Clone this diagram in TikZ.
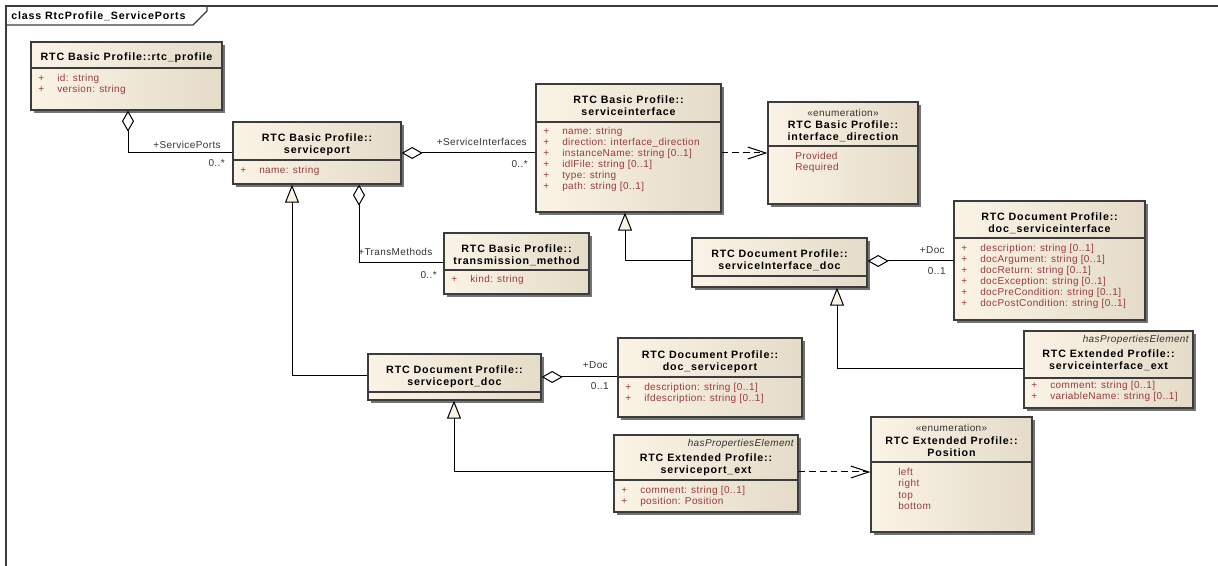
\documentclass[tikz,border=0pt]{standalone}
\usepackage{fontspec}
\setmainfont{Liberation Sans}
\newfontfamily\ttlfont{Liberation Sans}[LetterSpace=8]
\newfontfamily\txtfont{Liberation Sans}[LetterSpace=4]
\usetikzlibrary{arrows.meta,shadows}
\definecolor{boxleft}{HTML}{FBF4E6}
\definecolor{boxright}{HTML}{E4DBC8}
\definecolor{attrred}{HTML}{9C3A3A}
\definecolor{rolegray}{HTML}{333333}
\definecolor{edge}{HTML}{3C3C3C}
\newcommand{\plusattr}[1]{\makebox[14.25pt][l]{+}#1}

\begin{document}
\begin{tikzpicture}
   [
      x=0.75pt, y=-0.75pt,
      cls/.style 2 args={rectangle, draw=edge, line width=1pt, inner sep=0pt,
      minimum width=#1*0.75pt, minimum height=#2*0.75pt,
      left color=boxleft, right color=boxright,
      drop shadow={shadow xshift=2.25pt, shadow yshift=-2.25pt, fill=black!55, opacity=1}},
      ttl/.style={anchor=base, align=center, inner sep=0pt, font=\ttlfont\bfseries\fontsize{8}{9}\selectfont},
      attrs/.style={anchor=base west, align=left, inner sep=0pt, text=attrred,
      font=\txtfont\fontsize{7.5}{8.25}\selectfont},
      stereo/.style={anchor=base, inner sep=0pt, text=rolegray, font=\txtfont\fontsize{7.5}{8}\selectfont},
      tag/.style={anchor=base east, inner sep=0pt, text=rolegray, font=\txtfont\itshape\fontsize{7.5}{8}\selectfont},
      role/.style={anchor=base east, inner sep=0pt, text=rolegray, font=\txtfont\fontsize{7.5}{8}\selectfont},
      sepln/.style={draw=edge, line width=1pt},
      conn/.style={draw=black, line width=0.75pt},
      agg/.style={conn, {Diamond[fill=white, length=15.75pt, width=9pt]}-},
      gen/.style={conn, {Triangle[fill=boxleft, length=13.5pt, width=10.5pt]}-},
      dep/.style={conn, dash pattern=on 5pt off 3pt, -{Straight Barb[length=13.5pt, width=9pt]}}
   ]
   \path[fill=white, use as bounding box] (0,0) rectangle (1218,566);

   % frame
   \draw[edge, line width=0.8pt] (6,566) -- (6,6) -- (1218,6);
   \draw[edge, line width=0.8pt] (6,25) -- (193,25) -- (207,11) -- (207,6);
   \node[anchor=west, inner sep=0pt, font=\ttlfont\bfseries\fontsize{8}{8}\selectfont] (frametitle) at (11,16) {class RtcProfile\_ServicePorts};

   % classes (multi-line texts are placed by the baseline of their last line)
   \node[cls={191}{68}] (rtcprofile) at (126.5,76) {};
   \node[ttl] (rtcprofile-t) at (126.5,61) {RTC Basic Profile::rtc\_profile};
   \draw[sepln] (rtcprofile.west |- 0,68) -- (rtcprofile.east |- 0,68);
   \node[attrs] (rtcprofile-a) at (38,93) {\plusattr{id: string}\\\plusattr{version: string}};

   \node[cls={168}{62}] (serviceport) at (317,153) {};
   \node[ttl] (serviceport-t) at (317,154) {RTC Basic Profile::\\serviceport};
   \draw[sepln] (serviceport.west |- 0,160) -- (serviceport.east |- 0,160);
   \node[attrs] (serviceport-a) at (240,174) {\plusattr{name: string}};

   \node[cls={185}{128}] (serviceinterface) at (628.5,148) {};
   \node[ttl] (serviceinterface-t) at (628.5,116) {RTC Basic Profile::\\serviceinterface};
   \draw[sepln] (serviceinterface.west |- 0,122) -- (serviceinterface.east |- 0,122);
   \node[attrs] (serviceinterface-a) at (543,190) {\plusattr{name: string}\\\plusattr{direction: interface\_direction}\\
      \plusattr{instanceName: string [0..1]}\\\plusattr{idlFile: string [0..1]}\\\plusattr{type: string}\\
      \plusattr{path: string [0..1]}};

   \node[cls={150}{102}] (ifdirection) at (843,153) {};
   \node[stereo] (ifdirection-s) at (843,117) {«enumeration»};
   \node[ttl] (ifdirection-t) at (843,141) {RTC Basic Profile::\\interface\_direction};
   \draw[sepln] (ifdirection.west |- 0,146) -- (ifdirection.east |- 0,146);
   \node[attrs] (ifdirection-a) at (795,171) {Provided\\Required};

   \node[cls={145}{61}] (transmethod) at (516.5,263.5) {};
   \node[ttl] (transmethod-t) at (516.5,265) {RTC Basic Profile::\\transmission\_method};
   \draw[sepln] (transmethod.west |- 0,270) -- (transmethod.east |- 0,270);
   \node[attrs] (transmethod-a) at (451,283) {\plusattr{kind: string}};

   \node[cls={175}{49}] (sifacedoc) at (779.5,262.5) {};
   \node[ttl] (sifacedoc-t) at (779.5,270) {RTC Document Profile::\\serviceInterface\_doc};
   \draw[sepln] (sifacedoc.west |- 0,276) -- (sifacedoc.east |- 0,276);

   \node[cls={191}{119}] (docsiface) at (1049.5,260.5) {};
   \node[ttl] (docsiface-t) at (1049.5,233) {RTC Document Profile::\\doc\_serviceinterface};
   \draw[sepln] (docsiface.west |- 0,238) -- (docsiface.east |- 0,238);
   \node[attrs] (docsiface-a) at (961,307) {\plusattr{description: string [0..1]}\\\plusattr{docArgument: string [0..1]}\\
      \plusattr{docReturn: string [0..1]}\\\plusattr{docException: string [0..1]}\\
      \plusattr{docPreCondition: string [0..1]}\\\plusattr{docPostCondition: string [0..1]}};

   \node[cls={173}{46}] (sportdoc) at (454.5,377) {};
   \node[ttl] (sportdoc-t) at (454.5,386) {RTC Document Profile::\\serviceport\_doc};
   \draw[sepln] (sportdoc.west |- 0,392) -- (sportdoc.east |- 0,392);

   \node[cls={184}{79}] (docsport) at (710,377.5) {};
   \node[ttl] (docsport-t) at (710,371) {RTC Document Profile::\\doc\_serviceport};
   \draw[sepln] (docsport.west |- 0,377) -- (docsport.east |- 0,377);
   \node[attrs] (docsport-a) at (625,402) {\plusattr{description: string [0..1]}\\\plusattr{ifdescription: string [0..1]}};

   \node[cls={169}{77}] (sifaceext) at (1108.5,369.5) {};
   \node[tag] (sifaceext-s) at (1189,343) {hasPropertiesElement};
   \node[ttl] (sifaceext-t) at (1108.5,370) {RTC Extended Profile::\\serviceinterface\_ext};
   \draw[sepln] (sifaceext.west |- 0,378) -- (sifaceext.east |- 0,378);
   \node[attrs] (sifaceext-a) at (1031,400) {\plusattr{comment: string [0..1]}\\\plusattr{variableName: string [0..1]}};

   \node[cls={184}{77}] (sportext) at (706,473.5) {};
   \node[tag] (sportext-s) at (794,447) {hasPropertiesElement};
   \node[ttl] (sportext-t) at (706,474) {RTC Extended Profile::\\serviceport\_ext};
   \draw[sepln] (sportext.west |- 0,480) -- (sportext.east |- 0,480);
   \node[attrs] (sportext-a) at (621,504) {\plusattr{comment: string [0..1]}\\\plusattr{position: Position}};

   \node[cls={161}{115}] (position) at (951.5,474.5) {};
   \node[stereo] (position-s) at (951.5,432) {«enumeration»};
   \node[ttl] (position-t) at (951.5,457) {RTC Extended Profile::\\Position};
   \draw[sepln] (position.west |- 0,462) -- (position.east |- 0,462);
   \node[attrs, font=\txtfont\fontsize{7.5}{8.6}\selectfont] (position-a) at (898,509.5) {left\\right\\top\\bottom};

   % connectors
   \draw[agg] (rtcprofile.south -| 128,0) |- (serviceport.west |- 0,153);
   \draw[agg] (serviceport.east |- 0,153) -- (serviceinterface.west |- 0,153);
   \draw[agg] (serviceport.south -| 359,0) |- (transmethod.west |- 0,263);
   \draw[dep] (serviceinterface.east |- 0,153) -- (ifdirection.west |- 0,153);
   \draw[gen] (serviceinterface.south -| 625,0) |- (sifacedoc.west |- 0,261);
   \draw[agg] (sifacedoc.east |- 0,261) -- (docsiface.west |- 0,261);
   \draw[gen] (sifacedoc.south -| 837,0) |- (sifaceext.west |- 0,369);
   \draw[gen] (serviceport.south -| 292,0) |- (sportdoc.west |- 0,376);
   \draw[agg] (sportdoc.east |- 0,377) -- (docsport.west |- 0,377);
   \draw[gen] (sportdoc.south -| 454,0) |- (sportext.west |- 0,472);
   \draw[dep] (sportext.east |- 0,472) -- (position.west |- 0,472);

   % role names and multiplicities
   \node[role] (sp-role) at (221,149) {+ServicePorts};
   \node[role] (sp-mult) at (225,167) {0..*};
   \node[role] (si-role) at (527,146) {+ServiceInterfaces};
   \node[role] (si-mult) at (528,168) {0..*};
   \node[role, anchor=base west] (tm-role) at (358,256) {+TransMethods};
   \node[role] (tm-mult) at (437,279) {0..*};
   \node[role] (dsi-role) at (945,254) {+Doc};
   \node[role] (dsi-mult) at (946,275) {0..1};
   \node[role] (dsp-role) at (608,369) {+Doc};
   \node[role] (dsp-mult) at (609,390) {0..1};
\end{tikzpicture}
\end{document}
